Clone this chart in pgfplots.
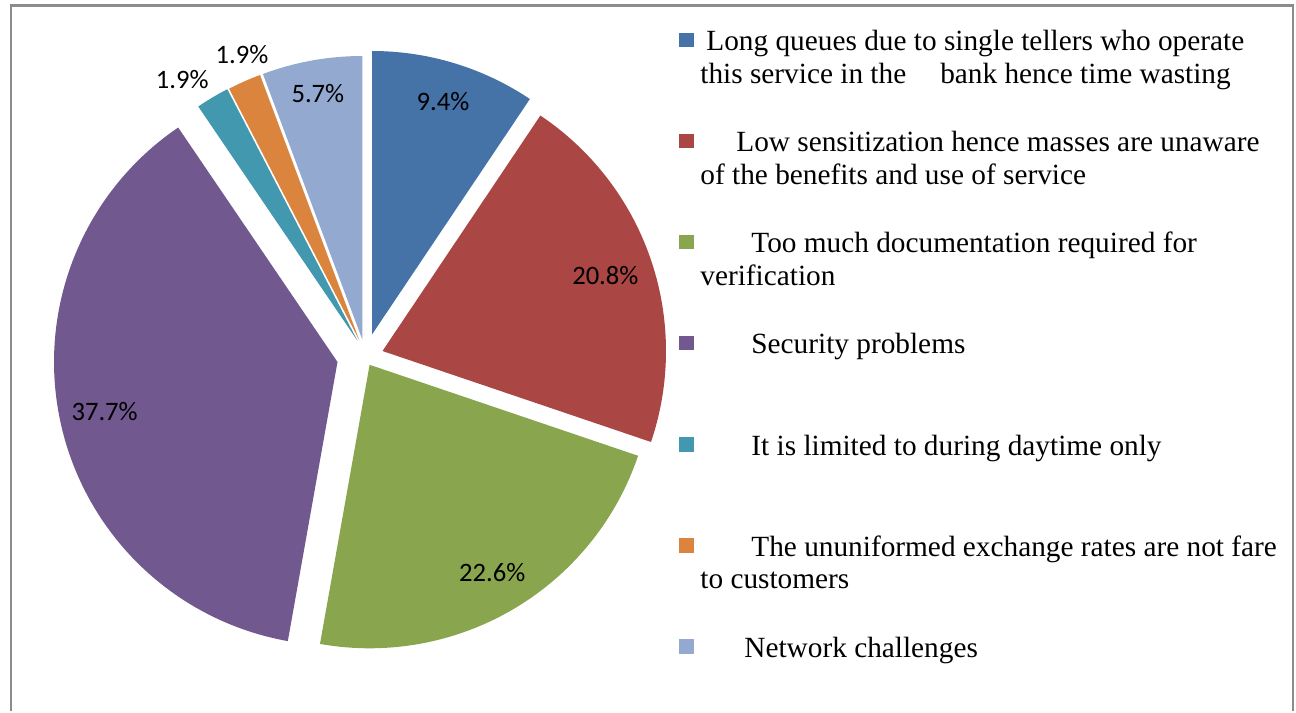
\documentclass[border=0pt]{standalone}
\usepackage{pgfplots}
\pgfplotsset{compat=1.18}
\usepackage{pgfplotstable}
\usepackage{fontspec}
\setmainfont{Liberation Serif}
\newfontfamily\labelfont{Carlito}
\newcommand\pctfont{\labelfont\fontsize{13.3}{15}\selectfont}
\newcommand\legfont{\fontsize{14.65}{17}\selectfont}

\definecolor{s0}{HTML}{4572A7}
\definecolor{s1}{HTML}{AA4643}
\definecolor{s2}{HTML}{89A54E}
\definecolor{s3}{HTML}{71588F}
\definecolor{s4}{HTML}{4198AF}
\definecolor{s5}{HTML}{DB843D}
\definecolor{s6}{HTML}{93A9CF}
\definecolor{frame}{HTML}{8C8C8C}

% share in percent, apex of each pulled-out slice,
% label distance (fraction of radius) and label angle shift (degrees)
\pgfplotstableread{
pct  tipx   tipy   lf    ls
9.4  372.0  376.5  0.86  0
20.8 382.5  360.0  0.83  0
22.6 369.6  346.2  0.85  0
37.7 337.5  349.0  0.84  0
1.9  357.6  370.0  1.11  3.1
1.9  359.4  370.5  1.09  -1.6
5.7  362.3  371.5  0.88  0
}\slices

\def\R{283.5}

\begin{document}
\begin{tikzpicture}
\begin{axis}[width=648pt,height=355.5pt,scale only axis,
  xmin=0,xmax=1296,ymin=0,ymax=711,hide axis,clip=false]
\path (axis cs:0,0) (axis cs:1296,711);
% slices, clockwise from twelve o'clock
\xdef\cum{0}
\pgfplotsinvokeforeach{0,...,6}{
  \pgfplotstablegetelem{#1}{pct}\of\slices \let\p\pgfplotsretval
  \pgfplotstablegetelem{#1}{tipx}\of\slices \let\tx\pgfplotsretval
  \pgfplotstablegetelem{#1}{tipy}\of\slices \let\ty\pgfplotsretval
  \pgfplotstablegetelem{#1}{lf}\of\slices \let\lf\pgfplotsretval
  \pgfplotstablegetelem{#1}{ls}\of\slices \let\ls\pgfplotsretval
  \pgfmathsetmacro\a{90-3.6*(\cum+\p)}
  \pgfmathsetmacro\b{90-3.6*\cum}
  \pgfmathsetmacro\m{(\a+\b)/2+\ls}
  \pgfmathsetmacro\lx{\tx+\lf*\R*cos(\m)}
  \pgfmathsetmacro\ly{\ty+\lf*\R*sin(\m)}
  \edef\doslice{%
    \noexpand\addplot[fill=s#1,draw=none,domain=\a:\b,samples=90]
      ({\tx+\R*cos(x)},{\ty+\R*sin(x)}) -- (axis cs:\tx,\ty) -- cycle;
    \noexpand\node[font=\noexpand\pctfont] at (axis cs:\lx,\ly) {\p\noexpand\%};}
  \doslice
  \pgfmathsetmacro\c{\cum+\p}\xdef\cum{\c}
}
% legend
\newcommand\key[2]{\fill[#1] (axis cs:679,#2+3.5) rectangle (axis cs:694,#2+18);}
\tikzset{lt/.style={anchor=base west,inner sep=0pt,font=\legfont}}
\key{s0}{660.3}
\node[lt] at (axis cs:706,660.3) {Long queues due to single tellers who operate};
\node[lt] at (axis cs:700,627.7) {this service in the\hspace{17pt}bank hence time wasting};
\key{s1}{559.2}
\node[lt] at (axis cs:736,559.2) {Low sensitization hence masses are unaware};
\node[lt] at (axis cs:700,526.6) {of the benefits and use of service};
\key{s2}{458.1}
\node[lt] at (axis cs:751,458.1) {Too much documentation required for};
\node[lt] at (axis cs:700,425.5) {verification};
\key{s3}{357.0}
\node[lt] at (axis cs:751,357.0) {Security problems};
\key{s4}{255.9}
\node[lt] at (axis cs:751,255.9) {It is limited to during daytime only};
\key{s5}{154.8}
\node[lt] at (axis cs:751,154.8) {The ununiformed exchange rates are not fare};
\node[lt] at (axis cs:700,122.2) {to customers};
\key{s6}{53.7}
\node[lt] at (axis cs:744,53.7) {Network challenges};
% chart frame
\draw[frame,line width=1.3pt] (axis cs:10.8,0) -- (axis cs:10.8,705.2)
  -- (axis cs:1293,705.2) -- (axis cs:1293,0);
\end{axis}
\end{tikzpicture}
\end{document}
